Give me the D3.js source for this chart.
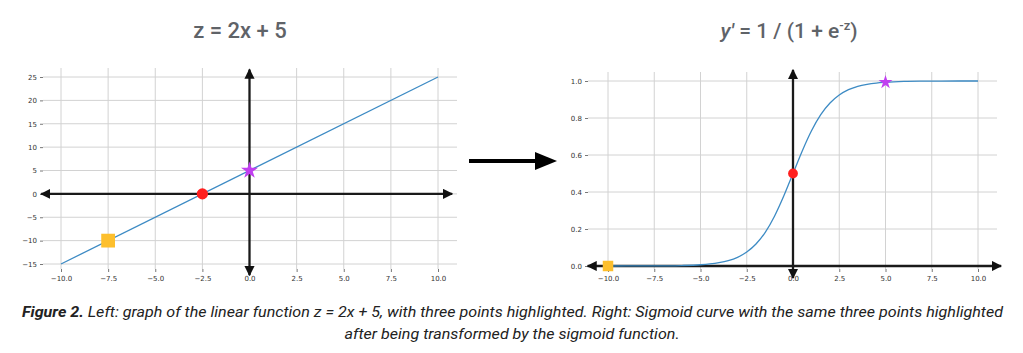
<!DOCTYPE html>
<html>
<head>
<meta charset="utf-8">
<script src="https://cdn.jsdelivr.net/npm/d3@7"></script>
<style>
  body { margin: 0; background: #fff; }
  svg { display: block; }
</style>
</head>
<body>
<div id="chart"></div>
<script>
// ---- data ----
const xTicks = [-10, -7.5, -5, -2.5, 0, 2.5, 5, 7.5, 10];
const zTicks = [-15, -10, -5, 0, 5, 10, 15, 20, 25];
const sigTicks = [0, 0.2, 0.4, 0.6, 0.8, 1.0];

// linear z = 2x + 5, endpoints
const lineX = [-10, 10];
const lineZ = [-15, 25];

// sigmoid curve, values
const curveZ = [-10, -8, -7, -6, -5, -4.5, -4, -3.5, -3, -2.5, -2, -1.5, -1, -0.5, 0,
  0.5, 1, 1.5, 2, 2.5, 3, 3.5, 4, 4.5, 5, 6, 7, 8, 10];
const curveY = [0.0001, 0.0003, 0.0009, 0.0025, 0.0067, 0.011, 0.018, 0.029, 0.047, 0.076, 0.119, 0.182, 0.269, 0.378, 0.5,
  0.622, 0.731, 0.818, 0.881, 0.924, 0.953, 0.971, 0.982, 0.989, 0.993, 0.9975, 0.9991, 0.9997, 1.0];

// highlighted points
const pointKind = ["square", "circle", "star"];
const pointColor = ["#fdbf2d", "#ff1f1f", "#c13ff0"];
const linPtX = [-7.5, -2.5, 0];
const linPtZ = [-10, 0, 5];
const sigPtZ = [-10, 0, 5];
const sigPtY = [0.00, 0.5, 0.993];

// arrowed axes extent (data units)
const linAxisX = [-11.05, 10.75];
const linAxisZ = [-17.4, 26.6];
const sigAxisZ = [-11.1, 11.25];
const sigAxisY = [-0.065, 1.06];

const width = 1023, height = 353;
const svg = d3.select("#chart").append("svg")
  .attr("width", width).attr("height", height)
  .attr("viewBox", `0 0 ${width} ${height}`);

const defs = svg.append("defs");
defs.append("marker")
  .attr("id", "ah")
  .attr("viewBox", "0 0 10 10")
  .attr("refX", 9).attr("refY", 5)
  .attr("markerWidth", 4.4).attr("markerHeight", 4.4)
  .attr("markerUnits", "strokeWidth")
  .attr("orient", "auto-start-reverse")
  .append("path").attr("d", "M0,0 L10,5 L0,10 Z").attr("fill", "#111");

function panel(opt) {
  const g = svg.append("g");
  const x = d3.scaleLinear().domain(opt.xDom).range(opt.xRange);
  const y = d3.scaleLinear().domain(opt.yDom).range(opt.yRange);
  const [pl, pr] = opt.plotX, [pt, pb] = opt.plotY;

  // grid
  g.append("g").selectAll("line").data(opt.xTicks).join("line")
    .attr("x1", d => x(d)).attr("x2", d => x(d))
    .attr("y1", pt).attr("y2", pb)
    .attr("stroke", "#d2d2d2").attr("stroke-width", 1);
  g.append("g").selectAll("line").data(opt.yTicks).join("line")
    .attr("x1", pl).attr("x2", pr)
    .attr("y1", d => y(d)).attr("y2", d => y(d))
    .attr("stroke", "#d2d2d2").attr("stroke-width", 1);

  // axes ticks (domain hidden)
  const fmt = opt.fmt;
  const ax = g.append("g").attr("transform", `translate(0,${pb})`)
    .call(d3.axisBottom(x).tickValues(opt.xTicks).tickSize(3).tickPadding(4)
      .tickFormat(d => d3.format(".1f")(d).replace("-", "\u2212")));
  const ay = g.append("g").attr("transform", `translate(${pl},0)`)
    .call(d3.axisLeft(y).tickValues(opt.yTicks).tickSize(3).tickPadding(3)
      .tickFormat(d => fmt(d).replace("-", "\u2212")));
  [ax, ay].forEach(a => {
    a.select(".domain").remove();
    a.selectAll(".tick line").attr("stroke", "#555").attr("stroke-width", 0.8);
    a.selectAll("text").attr("font-family", "DejaVu Sans").attr("font-size", 7).attr("fill", "#333");
  });

  // black arrowed axes
  g.append("line")
    .attr("x1", x(opt.axX[0])).attr("x2", x(opt.axX[1]))
    .attr("y1", y(0)).attr("y2", y(0))
    .attr("stroke", "#1a1a1a").attr("stroke-width", 2.3)
    .attr("marker-start", "url(#ah)").attr("marker-end", "url(#ah)");
  g.append("line")
    .attr("x1", x(0)).attr("x2", x(0))
    .attr("y1", y(opt.axY[0])).attr("y2", y(opt.axY[1]))
    .attr("stroke", "#1a1a1a").attr("stroke-width", 2.3)
    .attr("marker-start", "url(#ah)").attr("marker-end", "url(#ah)");

  // curve
  const pts = opt.cx.map((d, i) => [d, opt.cy[i]]);
  g.append("path")
    .attr("d", d3.line().x(d => x(d[0])).y(d => y(d[1])).curve(d3.curveMonotoneX)(pts))
    .attr("fill", "none").attr("stroke", "#3d8bc4").attr("stroke-width", 1.3);

  // highlighted points
  const sym = { square: d3.symbolSquare, circle: d3.symbolCircle, star: d3.symbolStar };
  g.append("g").selectAll("path").data(opt.px.map((d, i) => i)).join("path")
    .attr("transform", i => `translate(${x(opt.px[i])},${y(opt.py[i])})`)
    .attr("d", i => d3.symbol(sym[pointKind[i]], opt.sizes[i])())
    .attr("fill", i => pointColor[i]);
}

panel({
  xDom: [-10, 10], xRange: [61, 438],
  yDom: [-15, 25], yRange: [264, 77],
  plotX: [43, 457], plotY: [68, 269],
  xTicks, yTicks: zTicks, fmt: d3.format("d"),
  axX: linAxisX, axY: linAxisZ,
  cx: lineX, cy: lineZ,
  px: linPtX, py: linPtZ, sizes: [190, 100, 90]
});

panel({
  xDom: [-10, 10], xRange: [608, 978],
  yDom: [0, 1], yRange: [266, 81],
  plotX: [588, 997], plotY: [72, 269],
  xTicks, yTicks: sigTicks, fmt: d3.format(".1f"),
  axX: sigAxisZ, axY: sigAxisY,
  cx: curveZ, cy: curveY,
  px: sigPtZ, py: sigPtY, sizes: [110, 75, 60]
});

// arrow between panels
svg.append("line")
  .attr("x1", 469).attr("x2", 537).attr("y1", 161).attr("y2", 161)
  .attr("stroke", "#000").attr("stroke-width", 4);
svg.append("path").attr("d", "M535,152 L557,161 L535,170 Z").attr("fill", "#000");

// titles
const title = svg.append("g")
  .attr("font-family", "Roboto").attr("font-weight", 500)
  .attr("font-size", 22).attr("fill", "#5f6368").attr("text-anchor", "middle");
title.append("text").attr("x", 240).attr("y", 38)
  .text("z = 2x + 5");
const t2 = title.append("text").attr("x", 789).attr("y", 38).attr("font-size", 21);
t2.append("tspan").attr("font-style", "italic").text("y'");
t2.append("tspan").text(" = 1 / (1 + e");
t2.append("tspan").attr("font-size", 13).attr("dy", -8).text("-z");
t2.append("tspan").attr("dy", 8).text(")");

// caption
const cap = svg.append("g")
  .attr("font-family", "Roboto").attr("font-style", "italic")
  .attr("font-size", 14).attr("fill", "#222");
const c1 = cap.append("text").attr("x", 22).attr("y", 317)
  .attr("textLength", 981).attr("lengthAdjust", "spacingAndGlyphs");
c1.append("tspan").attr("font-weight", 700).text("Figure 2.");
c1.append("tspan").text(" Left: graph of the linear function z = 2x + 5, with three points highlighted. Right: Sigmoid curve with the same three points highlighted");
cap.append("text").attr("x", 512).attr("y", 339).attr("text-anchor", "middle")
  .attr("textLength", 335).attr("lengthAdjust", "spacingAndGlyphs")
  .text("after being transformed by the sigmoid function.");
</script>
</body>
</html>
